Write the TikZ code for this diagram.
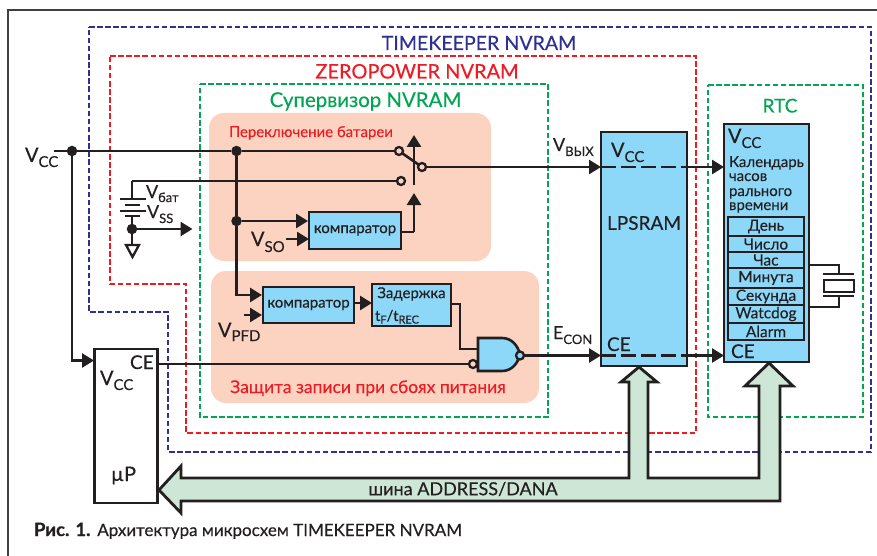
\documentclass[tikz,border=0pt]{standalone}
\usepackage{fontspec}
\setmainfont{Lato}[FakeBold=0.25,BoldFont={Lato Bold},BoldFeatures={FakeBold=0.6}]
\usetikzlibrary{arrows.meta,calc}
\definecolor{ink}{HTML}{231F20}
\definecolor{tkblue}{HTML}{2E3192}
\definecolor{zpred}{HTML}{ED1C24}
\definecolor{supgreen}{HTML}{00A651}
\definecolor{peach}{HTML}{FBD3C0}
\definecolor{chipblue}{HTML}{8DD8F8}
\definecolor{busgreen}{HTML}{CDE6D5}
\newcommand{\fs}[1]{\fontsize{#1}{#1}\selectfont}
\newcommand{\lowsub}[3]{#1\raisebox{-#3pt}{\fontsize{15}{15}\selectfont #2}}
\newcommand{\lowsmall}[3]{#1\raisebox{-#3pt}{\fontsize{13}{13}\selectfont #2}}
\tikzset{
  wire/.style={draw=ink,line width=2.6pt},
  tip/.style={wire,-{Triangle[length=12pt,width=14pt]}},
  fence/.style={line width=2.8pt,dash pattern=on 5.5pt off 2.6pt,line join=miter},
  panel/.style={fill=peach,rounded corners=15pt},
  chip/.style={draw=ink,fill=chipblue,line width=2.8pt,inner sep=0pt,outer sep=0pt,font=\fs{15},text=ink},
  plainbox/.style={draw=ink,fill=white,line width=2.8pt,inner sep=0pt,outer sep=0pt},
  dot/.style={circle,fill=ink,inner sep=0pt,minimum size=10.5pt,outer sep=0pt},
  term/.style={circle,draw=ink,fill=peach,line width=2.3pt,inner sep=0pt,minimum size=8pt,outer sep=0pt},
  lbl/.style={inner sep=0pt,outer sep=0pt,text=ink,font=\fs{20},anchor=base west},
  row/.style={draw=ink,fill=chipblue,line width=2.5pt,inner sep=0pt,outer sep=0pt,minimum width=76pt,font=\fs{15.5},text=ink},
  title/.style={inner sep=0pt,outer sep=0pt,anchor=base},
  rail/.style={dash pattern=on 15pt off 5pt,draw=ink,line width=2.6pt}
}
\begin{document}
\begin{tikzpicture}[x=1pt,y=-1pt]
\useasboundingbox (0,0) rectangle (877,556);
\fill[white] (0,0) rectangle (877,556);
% page frame
\draw[draw=black!75,line width=1.6pt] (877,10) -- (8,10) -- (8,556);
% panels
\fill[panel] (209,113) rectangle (491,261);
\fill[panel] (211,271) rectangle (539,403);
% fences
\draw[fence,tkblue] (89,27) -- (871,27) -- (871,452) -- (168,452) -- (168,312) -- (89,312) -- cycle;
\draw[fence,zpred] (110,56) -- (696,56) -- (696,433) -- (186,433) -- (186,284) -- (110,284) -- cycle;
\draw[fence,supgreen] (200,84) -- (548,84) -- (548,417) -- (200,417) -- cycle;
\draw[fence,supgreen] (708,85) -- (863,85) -- (863,417) -- (708,417) -- cycle;
% titles
\node[title,text=tkblue,font=\fs{19.6}] (ttk) at (479,50) {TIMEKEEPER NVRAM};
\node[title,text=zpred,font=\fs{20}] (tzp) at (417,78.5) {ZEROPOWER NVRAM};
\node[title,text=supgreen,font=\fs{20.4}] (tsup) at (365.5,107) {Супервизор NVRAM};
\node[title,text=supgreen,font=\fs{19}] (trtc) at (780,112.5) {RTC};
\node[title,text=zpred,font=\fs{15}] (tsw) at (311,137) {Переключение батареи};
\node[title,text=zpred,font=\fs{17.5}] (tprot) at (368,393) {Защита записи при сбоях питания};
% blocks
\node[chip,minimum width=92pt,minimum height=37pt] (cmpa) at (355,230.5) {компаратор};
\node[chip,minimum width=91pt,minimum height=36pt] (cmpb) at (308.5,305) {компаратор};
\node[chip,minimum width=79pt,minimum height=42pt] (delay) at (411.5,305) {};
\node[inner sep=0pt,text=ink,font=\fs{15}] (delayt) at (411.5,294) {Задержка};
\node[lbl,font=\fs{15}] (delayf) at (375,321) {t\raisebox{-2.5pt}{\fs{11}F}/t\raisebox{-2.5pt}{\fs{11}REC}};
\node[plainbox,minimum width=63pt,minimum height=154pt] (mcu) at (126,426) {};
\node[chip,minimum width=86pt,minimum height=234pt] (sram) at (644,249) {};
\node[chip,minimum width=85pt,minimum height=238pt] (rtc) at (766.5,243) {};
% RTC register stack
\node[row,minimum height=19pt] (rday) at (766,226.5) {День};
\node[row,minimum height=16pt] (rdate) at (766,244) {Число};
\node[row,minimum height=16pt] (rhour) at (766,260) {Час};
\node[row,minimum height=20pt] (rmin) at (766,278) {Минута};
\node[row,minimum height=17pt] (rsec) at (766,296.5) {Секунда};
\node[row,minimum height=18pt] (rwd) at (766,314) {Watcdog};
\node[row,minimum height=17pt] (ral) at (766,331.5) {Alarm};
% junctions
\node[dot] (ja) at (72,151) {};
\node[dot] (jb) at (236.5,151) {};
\node[dot] (jc) at (236.5,221) {};
\node[dot] (jd) at (132,229) {};
\node[term] (sa) at (399,151) {};
\node[term] (sb) at (401,181) {};
\coordinate (vccstart) at (54,151);
\coordinate (batt) at (132,181);
\coordinate (pa) at (132,199);
\coordinate (pd) at (132,216);
\coordinate (vssend) at (192.5,229);
\coordinate (vsoin) at (286,239);
\coordinate (vpfdin) at (244,315);
\coordinate (mcuin) at (94,360.5);
\coordinate (cmpain) at (308,221);
\coordinate (cmpaout) at (401,232);
\coordinate (cmpbin) at (262,295);
\coordinate (cmpbin2) at (262,315);
\coordinate (tipup) at (414,135);
\coordinate (tipdn) at (414,193);
\coordinate (ctl) at (414,232);
% power and battery wires
\draw[wire] (vccstart) -- (ja) -- (jb) -- (sa);
\draw[wire] (batt) -- (sb);
\draw[wire] (batt) -- (pa);
\draw[tip] (ja) |- (mcuin);
\draw[wire] (jb) -- (jc);
\draw[tip] (jc) |- (cmpbin);
\draw[tip] (jc) -- (cmpain);
\draw[tip] (vsoin) -- (309,239);
\draw[tip] (vpfdin) -- (cmpbin2);
\draw[tip] (cmpb.east |- 0,303) -- (delay.west |- 0,303);
% battery
\draw[wire] (120,199) -- (146,199);
\draw[wire] (125,205) -- (140,205);
\draw[wire] (120,211) -- (146,211);
\draw[wire] (125,216) -- (140,216);
\draw[wire] (pd) -- (jd);
\draw[tip] (jd) -- (vssend);
\draw[wire] (jd) -- (132,245);
\draw[draw=ink,fill=white,line width=2.3pt,line join=miter] (126,245) -- (139,245) -- (132.5,257) -- cycle;
% switch
\draw[tip] (414,185) -- (tipup);
\draw[tip] (ctl) -- (tipdn);
\draw[wire] (cmpaout) -- (ctl);
\node[term] (sc) at (422,167) {};
\draw[wire] (sa) -- (sc);
\draw[wire] (414,160) -- (414,183);
\coordinate (vout) at (601,167);
\draw[tip] (sc) -- (vout);
% NAND
\draw[wire,fill=chipblue,line join=miter] (478,338) -- (502,338) .. controls (512,338) and (518,346) .. (520,354.5) .. controls (518,363) and (512,371) .. (502,371) -- (478,371) -- cycle;
\node[term,fill=chipblue] (nout) at (520,355.5) {};
\node[term] (nin) at (473,364) {};
\coordinate (nanda) at (478,349);
\draw[wire] (delay.east |- 0,304) -- (460,304) |- (nanda);
\draw[wire] (mcu.east |- nin) -- (nin);
\draw[tip] (nout) -- (601,355.5);
% rails through the memory
\draw[rail] (601,167) -- (687,167);
\draw[rail] (601,355.5) -- (687,355.5);
\draw[tip] (687,167) -- (rtc.west |- 0,167);
\draw[tip] (687,355.5) -- (rtc.west |- 0,355.5);
% crystal
\draw[draw=ink,line width=1.8pt] (rtc.east |- 0,265) -- (839,265) -- (839,274);
\draw[draw=ink,line width=1.8pt] (rtc.east |- 0,307) -- (839,307) -- (839,296);
\draw[wire] (823,274) -- (854,274);
\draw[wire] (823,296) -- (854,296);
\draw[wire,fill=white] (824,280) rectangle (854,292);
% bus
\draw[draw=ink,fill=busgreen,line width=2.8pt,line join=miter] (159,490) -- (181,466) -- (181,478) -- (629,478) -- (629,382) -- (621,382) -- (639,367) -- (657,382) -- (648,382) -- (648,478) -- (759,478) -- (759,386) -- (745,386) -- (769,363) -- (793,386) -- (780,386) -- (780,501) -- (181,501) -- (181,513) -- cycle;
\node[inner sep=0pt,text=ink,font=\fs{18}] (busl) at (463,489) {шина ADDRESS/DANA};
% labels
\node[lbl] (lvcc) at (25,162) {\lowsub{V}{CC}{5}};
\node[lbl,font=\fs{18}] (lbat) at (146,198) {\lowsmall{V}{бат}{4}};
\node[lbl,font=\fs{18}] (lvss) at (147,218) {\lowsmall{V}{SS}{5}};
\node[lbl,font=\fs{20}] (lvso) at (251,246) {\lowsub{V}{SO}{6}};
\node[lbl,font=\fs{20}] (lpfd) at (218,337) {\lowsub{V}{PFD}{4}};
\node[lbl,font=\fs{18}] (lout) at (553,151) {\lowsmall{V}{ВЫХ}{5}};
\node[lbl,font=\fs{18}] (lcon) at (553,339) {\lowsmall{E}{CON}{5}};
\node[lbl,font=\fs{19}] (lcem) at (130,369) {CE};
\node[lbl] (lvccm) at (100,385) {\lowsub{V}{CC}{5}};
\node[lbl,font=\fs{20}] (lmu) at (111,481) {µP};
\node[lbl] (lvccs) at (611,157) {\lowsub{V}{CC}{5}};
\node[inner sep=0pt,text=ink,font=\fs{19}] (lsram) at (644,223) {LPSRAM};
\node[lbl,font=\fs{19}] (lces) at (607,351) {CE};
\node[lbl] (lvccr) at (728,143) {\lowsub{V}{CC}{5}};
\node[lbl,font=\fs{15}] (lcal) at (729,167) {Календарь};
\node[lbl,font=\fs{15}] (lclk) at (729,181) {часов};
\node[lbl,font=\fs{15}] (lreal) at (729,196) {рального};
\node[lbl,font=\fs{15}] (ltime) at (729,210) {времени};
\node[lbl,font=\fs{19}] (lcer) at (731,358) {CE};
\node[lbl,font=\fs{17}] (cap) at (34,536) {{\fs{18.5}\textbf{Рис. 1.}}\hspace{1pt} Архитектура микросхем TIMEKEEPER NVRAM};
\end{tikzpicture}
\end{document}
